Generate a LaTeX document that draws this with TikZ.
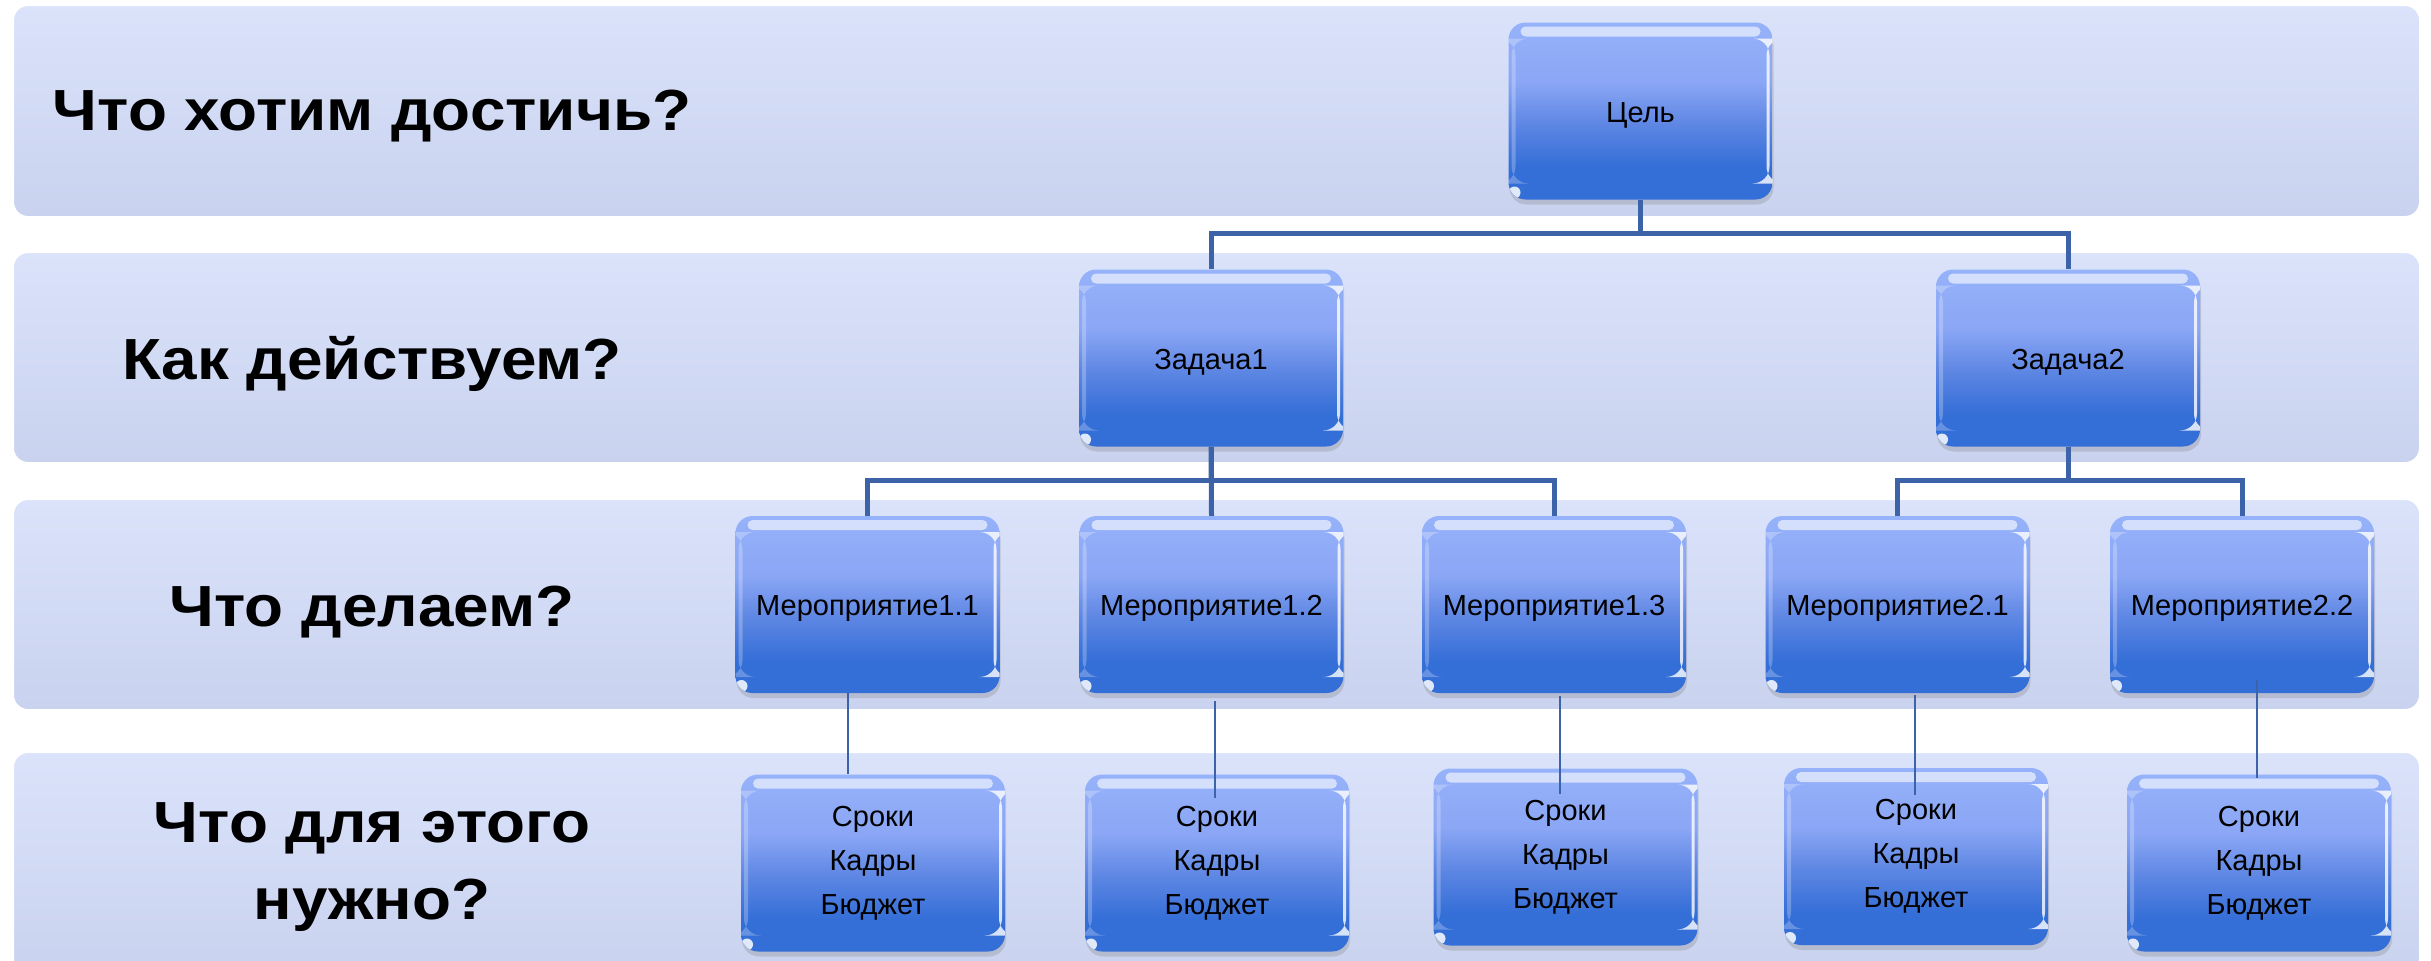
\documentclass[tikz,border=0pt]{standalone}
\usepackage{fontspec}
\setmainfont{Liberation Sans}
\newfontfamily\labfont[FakeStretch=1.1]{Liberation Sans}
\usetikzlibrary{shadows,calc}
\definecolor{bandtop}{RGB}{219,227,251}
\definecolor{bandbot}{RGB}{201,210,238}
\definecolor{boxtop}{RGB}{150,178,250}
\definecolor{boxlight}{RGB}{138,166,245}
\definecolor{boxmid}{RGB}{96,136,228}
\definecolor{boxbot}{RGB}{52,110,215}
\definecolor{linkcol}{RGB}{60,98,168}
\pgfdeclareverticalshading{boxshade}{100bp}{color(0bp)=(boxbot); color(25bp)=(boxbot); color(34bp)=(boxbot); color(47bp)=(boxmid); color(58bp)=(boxlight); color(75bp)=(boxtop); color(100bp)=(boxtop)}
\tikzset{
  band/.style={rectangle, rounded corners=15pt, minimum width=2407pt,
    top color=bandtop, bottom color=bandbot, draw=white, line width=2pt, inner sep=0pt},
  lvlbox/.style={rectangle, rounded corners=17pt, minimum width=264pt, minimum height=177pt,
    inner sep=0pt, shading=boxshade, draw=none,
    drop shadow={opacity=0.28, shadow xshift=1pt, shadow yshift=-5pt},
    font=\fontsize{29}{44}\selectfont, align=center, text=black,
    execute at begin node={\rule{0pt}{29pt}},
    path picture={
      \fill[white,opacity=0.6,rounded corners=5pt]
        ($(path picture bounding box.north west)+(12,-4)$) rectangle
        ($(path picture bounding box.north east)+(-12,-14)$);
      \fill[white,opacity=0.8]
        ($(path picture bounding box.north east)+(-6,-16)$) rectangle
        ($(path picture bounding box.south east)+(-3,16)$);
      \fill[white,opacity=0.25]
        ($(path picture bounding box.north west)+(3,-16)$) rectangle
        ($(path picture bounding box.south west)+(7,16)$);
      \fill[white,opacity=0.85]
        ($(path picture bounding box.south west)+(6,7)$) circle (6pt);
    }},
  bus/.style={draw=linkcol, line width=5pt},
  thinlink/.style={draw=linkcol, line width=1.8pt},
  qlabel/.style={font=\labfont\bfseries\fontsize{58}{77}\selectfont, align=center, inner sep=0pt}
}
\begin{document}
\begin{tikzpicture}[x=1pt,y=1pt]
\useasboundingbox (0,0) rectangle (2431,-961);
\clip (0,0) rectangle (2431,-961);
\fill[white] (0,0) rectangle (2431,-961);
% bands
\node[band, minimum height=212pt] (b1) at (1216.5,-111) {};
\node[band, minimum height=211pt] (b2) at (1216.5,-357.5) {};
\node[band, minimum height=211pt] (b3) at (1216.5,-604.5) {};
\node[band, minimum height=223pt] (b4) at (1216.5,-863.5) {};
% labels
\node[qlabel, anchor=base] (q1) at (372,-130) {Что хотим достичь?};
\node[qlabel, anchor=base] (q2) at (372,-379) {Как действуем?};
\node[qlabel, anchor=base] (q3) at (372,-626) {Что делаем?};
\node[qlabel] (q4) at (372,-867) {Что для этого\\нужно?};
% boxes
\node[lvlbox] (goal) at (1640.5,-111) {Цель};
\node[lvlbox] (t1) at (1211,-358) {Задача1};
\node[lvlbox] (t2) at (2068,-358) {Задача2};
\node[lvlbox] (m11) at (867.5,-604.5) {Мероприятие1.1};
\node[lvlbox] (m12) at (1211.5,-604.5) {Мероприятие1.2};
\node[lvlbox] (m13) at (1554,-604.5) {Мероприятие1.3};
\node[lvlbox] (m21) at (1897.5,-604.5) {Мероприятие2.1};
\node[lvlbox] (m22) at (2242,-604.5) {Мероприятие2.2};
\node[lvlbox] (c1) at (873,-863) {Сроки\\Кадры\\Бюджет};
\node[lvlbox] (c2) at (1217,-863) {Сроки\\Кадры\\Бюджет};
\node[lvlbox] (c3) at (1565.5,-857) {Сроки\\Кадры\\Бюджет};
\node[lvlbox] (c4) at (1916,-856.5) {Сроки\\Кадры\\Бюджет};
\node[lvlbox] (c5) at (2259,-863) {Сроки\\Кадры\\Бюджет};
% thick connectors
\draw[bus] (goal.south) -- ++(0,-34) -| (t1.north);
\draw[bus] (goal.south) -- ++(0,-34) -| (t2.north);
\draw[bus] (t1.south) -- ++(0,-34) -| (m11.north);
\draw[bus] (t1.south) -- (m12.north);
\draw[bus] (t1.south) -- ++(0,-34) -| (m13.north);
\draw[bus] (t2.south) -- ++(0,-34) -| (m21.north);
\draw[bus] (t2.south) -- ++(0,-34) -| (m22.north);
% thin connectors
\draw[thinlink] ([xshift=-19.5pt]m11.south) -- ([xshift=-25pt]c1.north);
\draw[thinlink] ([xshift=3.5pt,yshift=-8pt]m12.south) -- ([xshift=-2pt,yshift=-24pt]c2.north);
\draw[thinlink] ([xshift=6pt,yshift=-3pt]m13.south) -- ([xshift=-5.5pt,yshift=-26pt]c3.north);
\draw[thinlink] ([xshift=17.5pt,yshift=-2pt]m21.south) -- ([xshift=-1pt,yshift=-27pt]c4.north);
\draw[thinlink] ([xshift=15pt,yshift=13pt]m22.south) -- ([xshift=-2pt,yshift=-4pt]c5.north);
\end{tikzpicture}
\end{document}
